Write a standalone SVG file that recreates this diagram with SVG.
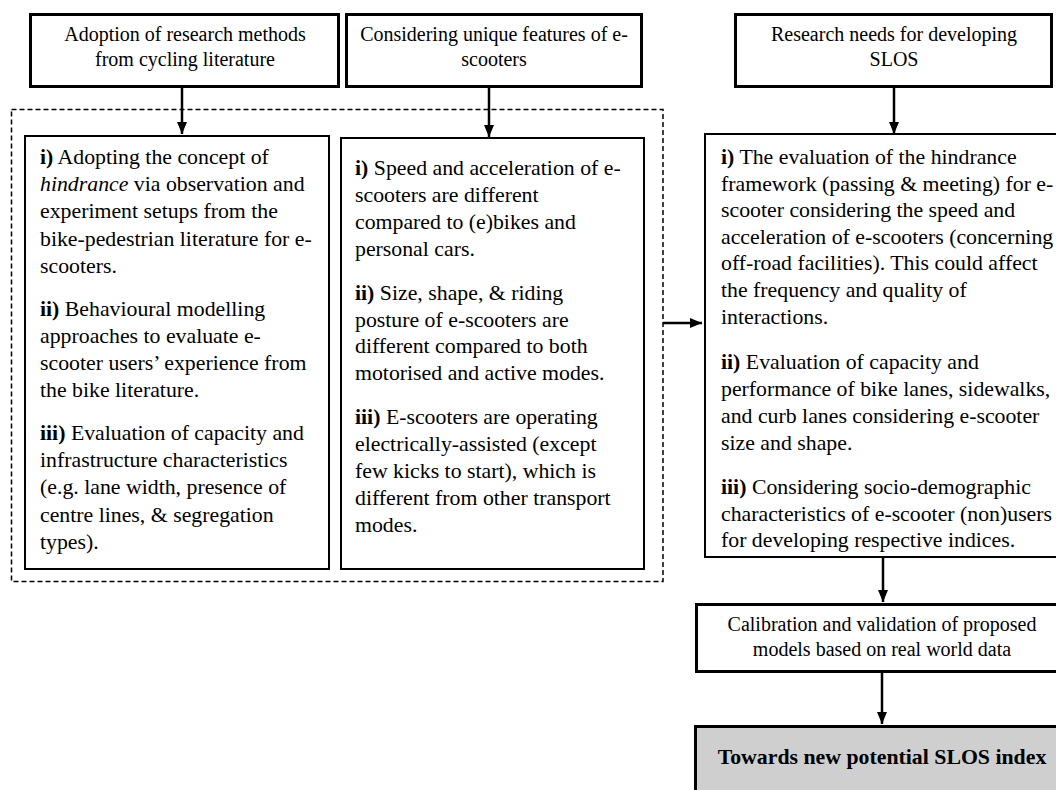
<svg xmlns="http://www.w3.org/2000/svg" width="1056" height="790" viewBox="0 0 1056 790">
<style>
.hb{fill:#fff;stroke:#000;stroke-width:3}
.ib{fill:#fff;stroke:#000;stroke-width:2}
.ht{font-family:"Liberation Serif","Times New Roman",serif;font-size:20px;fill:#000;text-anchor:middle}
.body{font-family:"Liberation Serif","Times New Roman",serif;font-size:21.8px;fill:#000}
.b{font-weight:bold}
.it{font-style:italic}
.cn{fill:none;stroke:#000;stroke-width:2.5}
</style>
<defs>
<marker id="ah" markerUnits="userSpaceOnUse" markerWidth="12" markerHeight="12" viewBox="0 0 12 12" refX="12" refY="6" orient="auto">
<path d="M0,1 L12,6 L0,11 Z" fill="#000"/>
</marker>
</defs>
<rect width="1056" height="790" fill="#fff"/>
<g id="group-dashed">
<rect x="11.5" y="109.5" width="651.5" height="472" fill="none" stroke="#000" stroke-width="1.5" stroke-dasharray="5 3"/>
</g>
<g id="node-adoption">
<rect class="hb" x="30.5" y="14.5" width="308" height="72"/>
<text class="ht" x="185" y="41">Adoption of research methods</text>
<text class="ht" x="185" y="66">from cycling literature</text>
</g>
<g id="node-considering">
<rect class="hb" x="346.5" y="14.5" width="295" height="72"/>
<text class="ht" x="494" y="41">Considering unique features of e-</text>
<text class="ht" x="494" y="66">scooters</text>
</g>
<g id="node-research-needs">
<rect class="hb" x="735.5" y="14.5" width="316" height="72"/>
<text class="ht" x="894" y="41">Research needs for developing</text>
<text class="ht" x="894" y="66">SLOS</text>
</g>
<g id="node-cycling-methods" class="body">
<rect class="ib" x="25" y="136" width="304" height="433"/>
<text x="40" y="164"><tspan class="b">i)</tspan> Adopting the concept of</text>
<text x="40" y="191"><tspan class="it">hindrance</tspan> via observation and</text>
<text x="40" y="218">experiment setups from the</text>
<text x="40" y="246">bike-pedestrian literature for e-</text>
<text x="40" y="273">scooters.</text>
<text x="40" y="316"><tspan class="b">ii)</tspan> Behavioural modelling</text>
<text x="40" y="343">approaches to evaluate e-</text>
<text x="40" y="370">scooter users’ experience from</text>
<text x="40" y="397">the bike literature.</text>
<text x="40" y="440"><tspan class="b">iii)</tspan> Evaluation of capacity and</text>
<text x="40" y="467">infrastructure characteristics</text>
<text x="40" y="494">(e.g. lane width, presence of</text>
<text x="40" y="522">centre lines, &amp; segregation</text>
<text x="40" y="549">types).</text>
</g>
<g id="node-unique-features" class="body">
<rect class="ib" x="341" y="138" width="303" height="431"/>
<text x="355" y="175"><tspan class="b">i)</tspan> Speed and acceleration of e-</text>
<text x="355" y="202">scooters are different</text>
<text x="355" y="229">compared to (e)bikes and</text>
<text x="355" y="256">personal cars.</text>
<text x="355" y="300"><tspan class="b">ii)</tspan> Size, shape, &amp; riding</text>
<text x="355" y="327">posture of e-scooters are</text>
<text x="355" y="353">different compared to both</text>
<text x="355" y="380">motorised and active modes.</text>
<text x="355" y="424"><tspan class="b">iii)</tspan> E-scooters are operating</text>
<text x="355" y="451">electrically-assisted (except</text>
<text x="355" y="478">few kicks to start), which is</text>
<text x="355" y="505">different from other transport</text>
<text x="355" y="532">modes.</text>
</g>
<g id="node-needs-list" class="body">
<rect class="ib" x="705" y="134" width="370" height="423"/>
<text x="721" y="164"><tspan class="b">i)</tspan> The evaluation of the hindrance</text>
<text x="721" y="191">framework (passing &amp; meeting) for e-</text>
<text x="721" y="217">scooter considering the speed and</text>
<text x="721" y="244">acceleration of e-scooters (concerning</text>
<text x="721" y="270">off-road facilities). This could affect</text>
<text x="721" y="297">the frequency and quality of</text>
<text x="721" y="324">interactions.</text>
<text x="721" y="369"><tspan class="b">ii)</tspan> Evaluation of capacity and</text>
<text x="721" y="396">performance of bike lanes, sidewalks,</text>
<text x="721" y="423">and curb lanes considering e-scooter</text>
<text x="721" y="450">size and shape.</text>
<text x="721" y="494"><tspan class="b">iii)</tspan> Considering socio-demographic</text>
<text x="721" y="521">characteristics of e-scooter (non)users</text>
<text x="721" y="547">for developing respective indices.</text>
</g>
<g id="node-calibration">
<rect class="hb" x="696.5" y="604.5" width="380" height="67"/>
<text class="ht" x="882" y="631">Calibration and validation of proposed</text>
<text class="ht" x="882" y="656">models based on real world data</text>
</g>
<g id="node-slos-index">
<rect x="695.5" y="726.5" width="380" height="80" fill="#cfcfcf" stroke="#000" stroke-width="3"/>
<text class="body b" x="882" y="764" text-anchor="middle">Towards new potential SLOS index</text>
</g>
<g id="connectors">
<line class="cn" x1="182" y1="88" x2="182" y2="134" marker-end="url(#ah)"/>
<line class="cn" x1="489" y1="88" x2="489" y2="137" marker-end="url(#ah)"/>
<line class="cn" x1="894" y1="88" x2="894" y2="134" marker-end="url(#ah)"/>
<line class="cn" x1="663" y1="323" x2="702" y2="323" marker-end="url(#ah)"/>
<line class="cn" x1="883" y1="558" x2="883" y2="602" marker-end="url(#ah)"/>
<line class="cn" x1="882" y1="673" x2="882" y2="724" marker-end="url(#ah)"/>
</g>
</svg>
